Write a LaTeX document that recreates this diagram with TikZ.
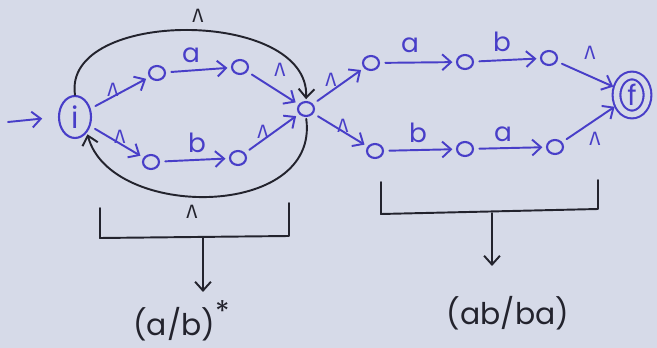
\documentclass[tikz,border=0pt]{standalone}
\usepackage{fontspec}
\setmainfont{Poppins}
\newfontfamily\grk{Fira Sans}
\usetikzlibrary{arrows.meta,shapes.geometric}
\definecolor{ink}{RGB}{72,62,200}
\definecolor{pen}{RGB}{35,35,45}
\definecolor{paper}{RGB}{214,218,232}
\begin{document}
\begin{tikzpicture}[x=0.02cm,y=-0.02cm,
  st/.style={ellipse,draw=ink,line width=1.2pt,minimum width=0.32cm,minimum height=0.28cm,inner sep=0pt},
  tr/.style={draw=ink,line width=1.1pt,line cap=round,-{Straight Barb[length=5pt,width=9pt,line width=1.1pt]},shorten >=2pt,shorten <=3pt},
  lam/.style={text=ink,font=\grk\fontsize{11}{11}\selectfont,inner sep=0pt},
  sym/.style={text=ink,font=\fontsize{15}{15}\selectfont,inner sep=0pt},
  pk/.style={draw=pen,line width=1.1pt,line cap=round,line join=round},
  pka/.style={pk,-{Straight Barb[length=5pt,width=9pt,line width=1.1pt]}},
  big/.style={text=pen,font=\fontsize{17}{17}\selectfont,inner sep=0pt},
]
\fill[paper] (0,0) rectangle (657,348);
\useasboundingbox (0,0) rectangle (657,348);

% states
\node[ellipse,draw=ink,line width=1.2pt,minimum width=0.64cm,minimum height=0.84cm,inner sep=0pt,text=ink,font=\fontsize{17}{17}\selectfont] (i) at (75,117) {i};
\node[ellipse,draw=ink,line width=1.2pt,double=paper,double distance=3.2pt,minimum width=0.62cm,minimum height=0.78cm,inner sep=0pt,text=ink,font=\fontsize{16}{16}\selectfont] (f) at (632,95) {f};
\node[st] (o1) at (157,73) {};
\node[st] (o2) at (240,67) {};
\node[st] (o3) at (306,109) {};
\node[st] (o4) at (151,162) {};
\node[st] (o5) at (238,158) {};
\node[st] (o6) at (371,63) {};
\node[st] (o7) at (465,62) {};
\node[st] (o8) at (549,58) {};
\node[st] (o9) at (375,151) {};
\node[st] (o10) at (465,149) {};
\node[st] (o11) at (555,147) {};

% start arrow
\coordinate (s) at (8,122);
\draw[tr,shorten <=0pt,shorten >=9pt] (s) -- (i.west);

% transitions
\draw[tr] (i) -- (o1);   \node[lam] at (113,90) {Λ};
\draw[tr] (o1) -- (o2);  \node[sym] at (191,55) {a};
\draw[tr] (o2) -- (o3);  \node[lam] at (280,70) {Λ};
\draw[tr] (i) -- (o4);   \node[lam] at (120,137) {Λ};
\draw[tr] (o4) -- (o5);  \node[sym] at (197,143) {b};
\draw[tr] (o5) -- (o3);  \node[lam] at (263,132) {Λ};
\draw[tr] (o3) -- (o6);  \node[lam] at (331,80) {Λ};
\draw[tr] (o6) -- (o7);  \node[sym] at (410,45) {a};
\draw[tr] (o7) -- (o8);  \node[sym] at (502,42) {b};
\draw[tr] (o8) -- (f);   \node[lam] at (590,53) {Λ};
\draw[tr] (o3) -- (o9);  \node[lam] at (343,126) {Λ};
\draw[tr] (o9) -- (o10); \node[sym] at (418,133) {b};
\draw[tr] (o10) -- (o11);\node[sym] at (503,134) {a};
\draw[tr] (o11) -- (f);  \node[lam] at (595,139) {Λ};

% loops
\draw[pka,shorten >=1pt] (i.north) .. controls (62,8) and (310,8) .. (o3.north);
\node[lam,text=pen] at (198,16) {Λ};
\draw[pka,shorten <=1pt,shorten >=1pt] (o3.south) .. controls (320,220) and (110,220) .. (i.south east);
\node[lam,text=pen] at (192,212) {Λ};

% brackets
\draw[pk] (100,208) -- (100,238) -- (289,236) -- (289,203);
\coordinate (b1) at (203,237);
\node[big,anchor=west] (r1) at (133,321) {(a/b)\raisebox{0.45em}{*}};
\draw[pka] (b1) -- (203,292);
\draw[pk] (381,182) -- (381,214) -- (598,209) -- (598,180);
\coordinate (b2) at (492,213);
\node[big] (r2) at (508,313) {(ab/ba)};
\draw[pka] (b2) -- (492,266);
\end{tikzpicture}
\end{document}
